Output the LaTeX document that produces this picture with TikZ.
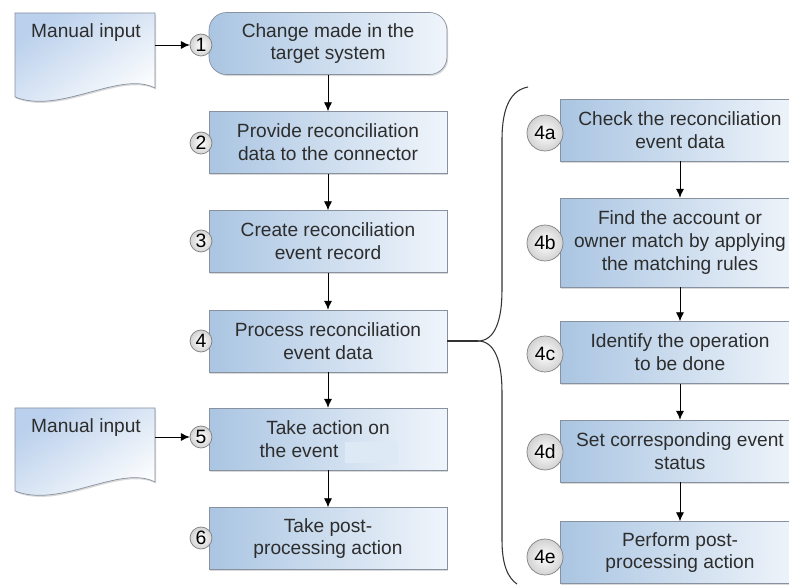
\documentclass[tikz,border=0pt]{standalone}
\usepackage{fontspec}
\setmainfont{Liberation Sans}
\usetikzlibrary{shadows,arrows.meta}

\definecolor{boxblue}{RGB}{170,197,226}
\definecolor{boxpale}{RGB}{240,245,251}
\definecolor{docblue}{RGB}{186,208,236}
\definecolor{inkgray}{RGB}{45,45,45}
\definecolor{edgegray}{RGB}{135,145,160}
\definecolor{patchblue}{RGB}{222,233,246}
\def\px{0.02cm}

\begin{document}
\begin{tikzpicture}[x=\px, y=-\px,
    font=\fontsize{10.9}{13}\selectfont, text=inkgray,
    shade/.style={drop shadow={shadow xshift=0.7pt, shadow yshift=-0.9pt, opacity=0.3}},
    box/.style={draw=edgegray, left color=boxblue, middle color=boxblue!65!boxpale,
      right color=boxpale, minimum height=1.24cm, align=center, inner sep=0pt, shade},
    leftbox/.style={box, minimum width=4.76cm},
    rightbox/.style={box, minimum width=4.8cm},
    numball/.style={circle, draw=gray, inner color=white, outer color=gray!35,
      inner sep=0pt, text=black, font=\fontsize{11}{12}\selectfont},
    smallball/.style={numball, minimum size=0.44cm},
    bigball/.style={numball, minimum size=0.72cm},
    doc/.style={draw=edgegray, top color=docblue, bottom color=white, shading angle=35, shade},
    flow/.style={-{Latex[length=5pt,width=4.5pt]}, black},
    bracket/.style={black!80, line width=0.6pt}]
  \useasboundingbox (0,0) rectangle (789,588);
  \clip (0,0) rectangle (789,588);

  % manual inputs
  \draw[doc] (15,13) -- (155,13) -- (155,88) .. controls (120,70) and (60,115) .. (15,97) -- cycle;
  \node (man1) at (86,33) {Manual input};
  \draw[doc] (15,408) -- (155,408) -- (155,482) .. controls (120,464) and (60,509) .. (15,491) -- cycle;
  \node (man2) at (86,428) {Manual input};
  \coordinate (out1) at (155,45);
  \coordinate (out2) at (155,437);

  % main flow
  \node[leftbox, rounded corners=10pt] (s1) at (328,43.5) {Change made in the\\target system};
  \node[leftbox] (s2) at (328,142.5) {Provide reconciliation\\data to the connector};
  \node[leftbox] (s3) at (328,241.5) {Create reconciliation\\event record};
  \node[leftbox] (s4) at (328,341) {Process reconciliation\\event data};
  \node[leftbox] (s5) at (328,439) {Take action on\\the event\hspace*{33pt}};
  \fill[patchblue] (345,442) rectangle (398,463);
  \node[leftbox] (s6) at (328,538.5) {Take post-\\processing action};

  \node[smallball] (n1) at (201,45) {1};
  \node[smallball] (n2) at (201,143) {2};
  \node[smallball] (n3) at (201,241) {3};
  \node[smallball] (n4) at (201,341) {4};
  \node[smallball] (n5) at (201,437) {5};
  \node[smallball] (n6) at (201,538) {6};

  \draw[flow] (out1) -- (n1);
  \draw[flow] (out2) -- (n5);
  \draw[flow] (s1) -- (s2);
  \draw[flow] (s2) -- (s3);
  \draw[flow] (s3) -- (s4);
  \draw[flow] (s4) -- (s5);
  \draw[flow] (s5) -- (s6);

  % sub steps of step 4
  \node[rightbox] (r4a) at (680,130) {Check the reconciliation\\event data};
  \node[rightbox, minimum height=1.78cm] (r4b) at (680,242.5) {Find the account or\\owner match by applying\\the matching rules};
  \node[rightbox] (r4c) at (680,352.5) {Identify the operation\\to be done};
  \node[rightbox] (r4d) at (680,451) {Set corresponding event\\status};
  \node[rightbox] (r4e) at (680,552.5) {Perform post-\\processing action};

  \node[bigball] (n4a) at (545,133) {4a};
  \node[bigball] (n4b) at (545,243) {4b};
  \node[bigball] (n4c) at (545,354) {4c};
  \node[bigball] (n4d) at (545,452) {4d};
  \node[bigball] (n4e) at (545,557) {4e};

  \draw[flow] (r4a) -- (r4b);
  \draw[flow] (r4b) -- (r4c);
  \draw[flow] (r4c) -- (r4d);
  \draw[flow] (r4d) -- (r4e);

  % brace
  \coordinate (tip) at (478,341);
  \draw[bracket] (s4.east) -- (tip);
  \draw[bracket] (tip) .. controls (495,341) and (502,320) .. (502,290) -- (502,140)
    .. controls (502,105) and (512,90) .. (528,87);
  \draw[bracket] (tip) .. controls (495,341) and (502,362) .. (502,392) -- (502,540)
    .. controls (502,565) and (508,578) .. (517,584);
\end{tikzpicture}
\end{document}
